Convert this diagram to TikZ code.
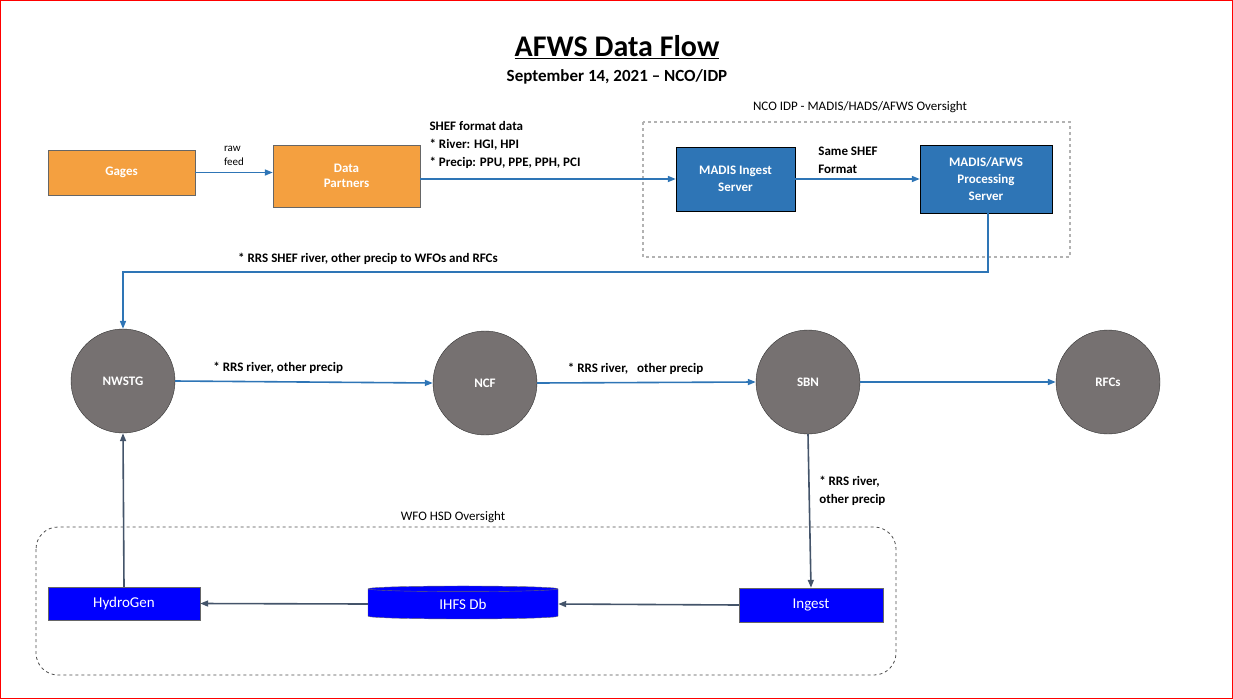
\documentclass[tikz,border=0pt]{standalone}
\usepackage{fontspec}
\setmainfont{Carlito}
\usetikzlibrary{arrows.meta,shapes.geometric}
\definecolor{org}{HTML}{F4A040}
\definecolor{mblue}{HTML}{2E75B6}
\definecolor{gcirc}{HTML}{767171}
\definecolor{slate}{HTML}{44546A}
\tikzset{
 obox/.style={draw=black!60,fill=org,minimum width=147pt,inner sep=0pt,font=\bfseries\fontsize{13}{15}\selectfont,text=white,align=center},
 bbox/.style={draw=black,fill=mblue,inner sep=0pt,font=\bfseries\fontsize{13}{17}\selectfont,text=white,align=center},
 vbox/.style={draw=black!60,fill=blue,inner sep=0pt,font=\fontsize{15}{17}\selectfont,text=white},
 circ/.style={circle,draw=black!80,fill=gcirc,minimum size=104pt,inner sep=0pt,font=\bfseries\fontsize{13}{15}\selectfont,text=white},
 barr/.style={-{Triangle[length=8pt,width=6pt]},draw=mblue,line width=1.6pt},
 sarr/.style={-{Triangle[length=8pt,width=6pt]},draw=slate,line width=1.6pt},
 lbl/.style={font=\bfseries\fontsize{13}{18}\selectfont,align=left},
}
\begin{document}
\begin{tikzpicture}[x=1pt,y=-1pt]
\useasboundingbox (0,0) rectangle (1233,699);
\draw[red,line width=1pt] (0.5,0.5) rectangle (1232.5,698.5);
\node[font=\bfseries\fontsize{30}{34}\selectfont] (title) at (617,47) {\underline{AFWS Data Flow}};
\node[font=\bfseries\fontsize{17}{20}\selectfont] (sub) at (617,77) {September 14, 2021 – NCO/IDP};
% boxes
\node[obox,minimum height=45pt] (gages) at (121.5,172.5) {Gages};
\node[obox,minimum height=62pt] (dp) at (346.5,176) {Data\\Partners};
\draw[dashed,draw=black!30,line width=1.5pt] (643,122) rectangle (1070,257);
\node[lbl,font=\fontsize{13}{15}\selectfont] (ncol) at (860,107) {NCO IDP - MADIS/HADS/AFWS Oversight};
\node[bbox,minimum width=119pt,minimum height=64pt] (mi) at (735.5,179) {MADIS Ingest\\Server};
\node[bbox,minimum width=132pt,minimum height=68pt] (mp) at (986,179) {MADIS/AFWS\\Processing\\Server};
\draw[barr] (gages) -- (gages-|dp.west) node[midway,above=3pt,font=\fontsize{11}{14}\selectfont,align=left]{raw\\feed};
\draw[barr] (dp.east|-mi) -- (mi.west);
\node[lbl,anchor=north west] (shef) at (426,118) {SHEF format data\\* River: HGI, HPI\\* Precip: PPU, PPE, PPH, PCI};
\draw[barr] (mi) -- (mp);
\node[lbl,align=left] (same) at (848,160) {Same SHEF\\Format};
% circles
\node[circ] (nwstg) at (123,381) {NWSTG};
\node[circ] (ncf) at (485,383) {NCF};
\node[circ] (sbn) at (808,382) {SBN};
\node[circ] (rfcs) at (1108,382) {RFCs};
\coordinate (c1) at (988,272);
\coordinate (c2) at (123,272);
\draw[barr] (mp.south-|c1) -- (c1) -- (c2) -- (nwstg.north);
\node[lbl] at (368,259) {* RRS SHEF river, other precip to WFOs and RFCs};
\draw[barr] (nwstg.east) -- (ncf.west) node[lbl,pos=0.4,above=4pt]{* RRS river, other precip};
\draw[barr] (ncf.east) -- (sbn.west) node[lbl,pos=0.45,above=4pt]{* RRS river,\ \ \ other precip};
\draw[barr] (sbn.east) -- (rfcs.west);
% bottom
\draw[dashed,draw=black!70,line width=0.8pt,rounded corners=22pt] (36,527) rectangle (896,675);
\node[lbl,font=\fontsize{13}{15}\selectfont] (wfo) at (453,517) {WFO HSD Oversight};
\node[vbox,minimum width=152pt,minimum height=33pt] (hg) at (124,603.5) {HydroGen};
\node[vbox,minimum width=144pt,minimum height=34pt] (ing) at (811,605) {Ingest};
\node[cylinder,shape border rotate=90,aspect=0.12,draw=black!60,fill=blue,minimum width=190pt,minimum height=33pt,inner sep=0pt,font=\fontsize{15}{17}\selectfont,text=white] (ihfs) at (463,604) {IHFS Db};
\draw[sarr] (sbn.south) -- (ing.north) node[lbl,pos=0.37,right=6pt]{* RRS river,\\other precip};
\draw[sarr] (ing.west) -- (ihfs.east);
\draw[sarr] (ihfs.west) -- (hg.east);
\draw[sarr] (hg.north) -- (nwstg.south);
\end{tikzpicture}
\end{document}
